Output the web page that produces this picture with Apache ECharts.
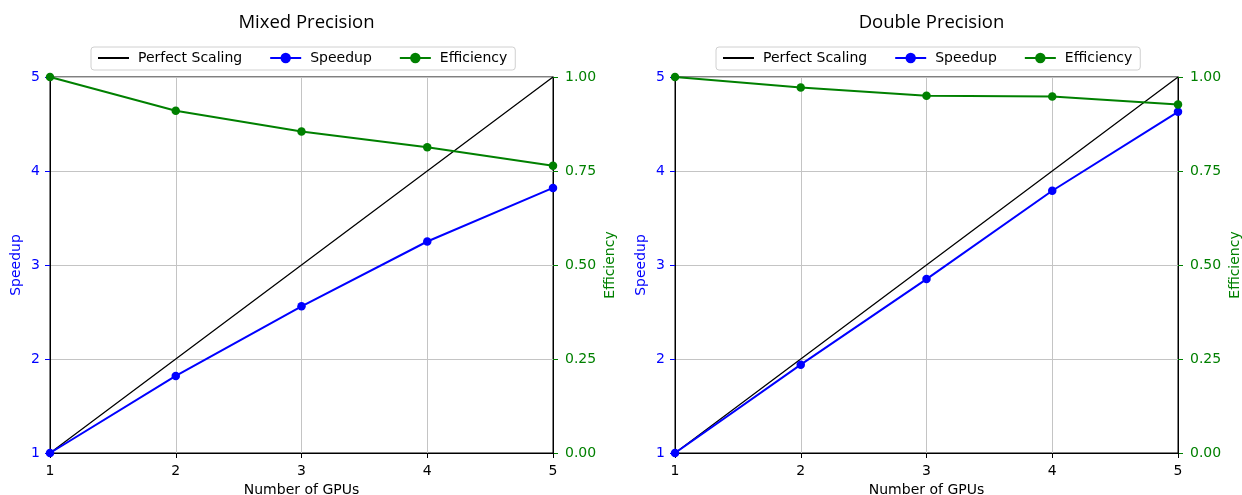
<!DOCTYPE html>
<html>
<head>
<meta charset="utf-8">
<script src="https://cdn.jsdelivr.net/npm/echarts@6/dist/echarts.min.js"></script>
<style>html,body{margin:0;padding:0;background:#fff}#c{width:1242px;height:495px}</style>
</head>
<body>
<div id="c"></div>
<script>
const gpus = [1, 2, 3, 4, 5];
const perfect = [1, 2, 3, 4, 5];
const mixedSpeedup = [1.0, 1.82, 2.56, 3.25, 3.82];
const mixedEfficiency = [1.0, 0.91, 0.855, 0.813, 0.764];
const doubleSpeedup = [1.0, 1.94, 2.85, 3.79, 4.63];
const doubleEfficiency = [1.0, 0.972, 0.95, 0.948, 0.927];
const titles = ['Mixed Precision', 'Double Precision'];
const speedTicks = [1, 2, 3, 4, 5];
const effTicks = [0, 0.25, 0.5, 0.75, 1.0];

const FONT = 'DejaVu Sans';
const FS = 14;
const BLUE = '#0000ff', GREEN = '#008000';
const GRIDC = '#c4c4c4';
const grids = [{left: 50, width: 503, top: 77, height: 376}, {left: 675, width: 503, top: 77, height: 376}];
const panels = [[mixedSpeedup, mixedEfficiency], [doubleSpeedup, doubleEfficiency]];

const pairs = arr => gpus.map((g, i) => [g, arr[i]]);

const option = {
  animation: false,
  backgroundColor: '#fff',
  title: grids.map((g, i) => ({
    text: titles[i], left: g.left + g.width / 2, top: 8, textAlign: 'center',
    textStyle: {fontFamily: 'Open Sans', fontSize: 18.5, fontWeight: 'normal', color: '#000'}
  })),
  legend: grids.map((g, i) => ({
    data: [{name: 'Perfect Scaling', itemStyle: {opacity: 0}}, 'Speedup', 'Efficiency'],
    left: g.left + 41, top: 47,
    itemWidth: 31, itemHeight: 13, itemGap: 27,
    borderColor: '#d0d0d0', borderWidth: 1, borderRadius: 3,
    padding: [4, 8, 5, 6], backgroundColor: '#fff',
    textStyle: {fontFamily: FONT, fontSize: FS, color: '#000', padding: [0, 0, 0, 4]},
    selectedMode: false
  })),
  grid: grids.map(g => Object.assign({show: true, borderColor: '#000', borderWidth: 1, outerBoundsMode: 'none', containLabel: false}, g)),
  xAxis: grids.map((g, i) => ({
    type: 'value', gridIndex: i, min: 1, max: 5, interval: 1,
    name: 'Number of GPUs', nameLocation: 'middle', nameGap: 29,
    nameTextStyle: {fontFamily: FONT, fontSize: FS, color: '#000'},
    axisLine: {show: true, lineStyle: {color: '#000', width: 1}},
    axisTick: {show: true, length: 5, lineStyle: {color: '#000'}},
    axisLabel: {fontFamily: FONT, fontSize: FS, color: '#000', margin: 11},
    splitLine: {show: true, lineStyle: {color: GRIDC, width: 1}}
  })),
  yAxis: [].concat(...grids.map((g, i) => [
    {
      type: 'value', gridIndex: i, position: 'left', min: speedTicks[0], max: speedTicks[4], interval: 1,
      name: 'Speedup', nameLocation: 'middle', nameGap: 27, nameRotate: 90,
      nameTextStyle: {fontFamily: FONT, fontSize: FS, color: BLUE},
      axisLine: {show: true, lineStyle: {color: '#000', width: 1}},
      axisTick: {show: true, length: 5, lineStyle: {color: BLUE}},
      axisLabel: {fontFamily: FONT, fontSize: FS, color: BLUE, margin: 10},
      splitLine: {show: true, lineStyle: {color: GRIDC, width: 1}}
    },
    {
      type: 'value', gridIndex: i, position: 'right', min: effTicks[0], max: effTicks[4], interval: 0.25,
      name: 'Efficiency', nameLocation: 'middle', nameGap: 50, nameRotate: 90,
      nameTextStyle: {fontFamily: FONT, fontSize: FS, color: GREEN},
      axisLine: {show: true, lineStyle: {color: '#000', width: 1}},
      axisTick: {show: true, length: 5, lineStyle: {color: GREEN}},
      axisLabel: {fontFamily: FONT, fontSize: FS, color: GREEN, margin: 12, formatter: v => v.toFixed(2)},
      splitLine: {show: false}
    }
  ])),
  series: [].concat(...panels.map((p, i) => [
    {
      name: 'Perfect Scaling', type: 'line', xAxisIndex: i, yAxisIndex: 2 * i,
      data: pairs(perfect), symbol: 'none', color: '#000',
      lineStyle: {color: '#000', width: 1.3}, z: 2
    },
    {
      name: 'Speedup', type: 'line', xAxisIndex: i, yAxisIndex: 2 * i,
      data: pairs(p[0]), symbol: 'circle', symbolSize: 8.5, color: BLUE, clip: false,
      lineStyle: {color: BLUE, width: 2}, itemStyle: {color: BLUE}, z: 3
    },
    {
      name: 'Efficiency', type: 'line', xAxisIndex: i, yAxisIndex: 2 * i + 1,
      data: pairs(p[1]), symbol: 'circle', symbolSize: 8.5, color: GREEN, clip: false,
      lineStyle: {color: GREEN, width: 2}, itemStyle: {color: GREEN}, z: 4
    }
  ]))
};

const chart = echarts.init(document.getElementById('c'), null, {renderer: 'canvas'});
chart.setOption(option);
</script>
</body>
</html>
